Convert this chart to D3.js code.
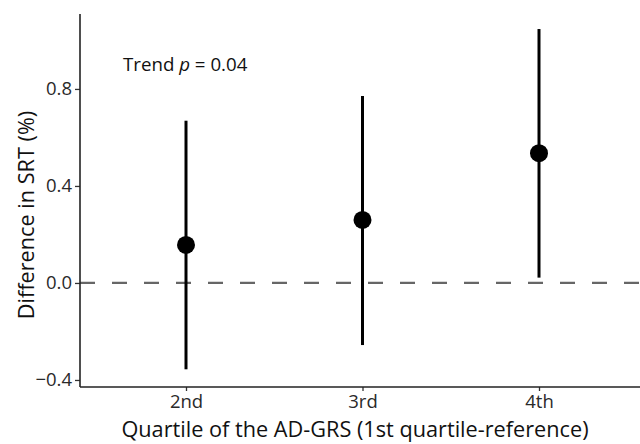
<!DOCTYPE html>
<html>
<head>
<meta charset="utf-8">
<script src="https://cdn.jsdelivr.net/npm/d3@7"></script>
<style>
body { margin: 0; background: #fff; }
text { font-family: "Open Sans", sans-serif; }
</style>
</head>
<body>
<svg width="640" height="444"></svg>
<script>
var width = 640
var height = 444

// estimates from the figure
var quartiles = ["2nd", "3rd", "4th"]
var est = [0.157, 0.26, 0.535]
var lower = [-0.356, -0.256, 0.022]
var upper = [0.669, 0.771, 1.047]
var yTicks = [-0.4, 0.0, 0.4, 0.8]

var data = quartiles.map((q, i) => ({q: q, est: est[i], lo: lower[i], hi: upper[i]}))

var pLeft = 80, pRight = 640, pTop = 14, pBottom = 387

var x = d3.scalePoint()
    .domain(quartiles)
    .range([186, 539])

var y = d3.scaleLinear()
    .domain([-0.429, 1.109])
    .range([pBottom, pTop])

const svg = d3.select("svg")

// reference line at zero
svg.append("line")
  .attr("x1", pLeft).attr("x2", pRight)
  .attr("y1", y(0)).attr("y2", y(0))
  .attr("stroke", "#666")
  .attr("stroke-width", 2.2)
  .attr("stroke-dasharray", "15,17")

const g = svg.append("g")

g.selectAll("line.ci")
.data(data)
.enter()
.append("line")
  .attr("class", "ci")
  .attr("x1", d => x(d.q)).attr("x2", d => x(d.q))
  .attr("y1", d => y(d.lo)).attr("y2", d => y(d.hi))
  .attr("stroke", "black")
  .attr("stroke-width", 3)

g.selectAll("circle")
.data(data)
.enter()
.append("circle")
  .attr("cx", d => x(d.q))
  .attr("cy", d => y(d.est))
  .attr("r", 9)
  .attr("fill", "black")

// axes
const gx = svg.append("g")
  .attr("transform", `translate(0,${pBottom})`)
  .call(d3.axisBottom(x).tickSize(4).tickPadding(4))
gx.select(".domain").remove()
gx.append("line").attr("x1", pLeft).attr("x2", pRight)
  .attr("stroke", "#222").attr("stroke-width", 1.6)

const gy = svg.append("g")
  .attr("transform", `translate(${pLeft},0)`)
  .call(d3.axisLeft(y).tickValues(yTicks).tickFormat(d3.format(".1f")).tickSize(5).tickPadding(3))
gy.select(".domain").remove()
gy.append("line").attr("y1", pTop).attr("y2", pBottom)
  .attr("stroke", "#222").attr("stroke-width", 1.6)

svg.selectAll(".tick line").attr("stroke", "#333").attr("stroke-width", 1.3)
svg.selectAll(".tick text")
  .attr("font-size", 18.5)
  .attr("fill", "#2a2a2a")
  .style("font-family", "'Open Sans', sans-serif")
gy.selectAll(".tick text").text(d => d < 0 ? "\u2212" + d3.format(".1f")(-d) : d3.format(".1f")(d))

// titles
svg.append("text")
  .attr("x", 355).attr("y", 437)
  .attr("text-anchor", "middle")
  .attr("font-size", 21.7)
  .attr("fill", "#111")
  .text("Quartile of the AD-GRS (1st quartile-reference)")

svg.append("text")
  .attr("transform", `translate(34,215) rotate(-90)`)
  .attr("text-anchor", "middle")
  .attr("font-size", 21.7)
  .attr("fill", "#111")
  .text("Difference in SRT (%)")

var trend = svg.append("text")
  .attr("x", 123).attr("y", 71)
  .attr("font-size", 18.7)
  .attr("fill", "#111")
trend.append("tspan").text("Trend ")
trend.append("tspan").attr("font-style", "italic").text("p")
trend.append("tspan").text(" = 0.04")
</script>
</body>
</html>
